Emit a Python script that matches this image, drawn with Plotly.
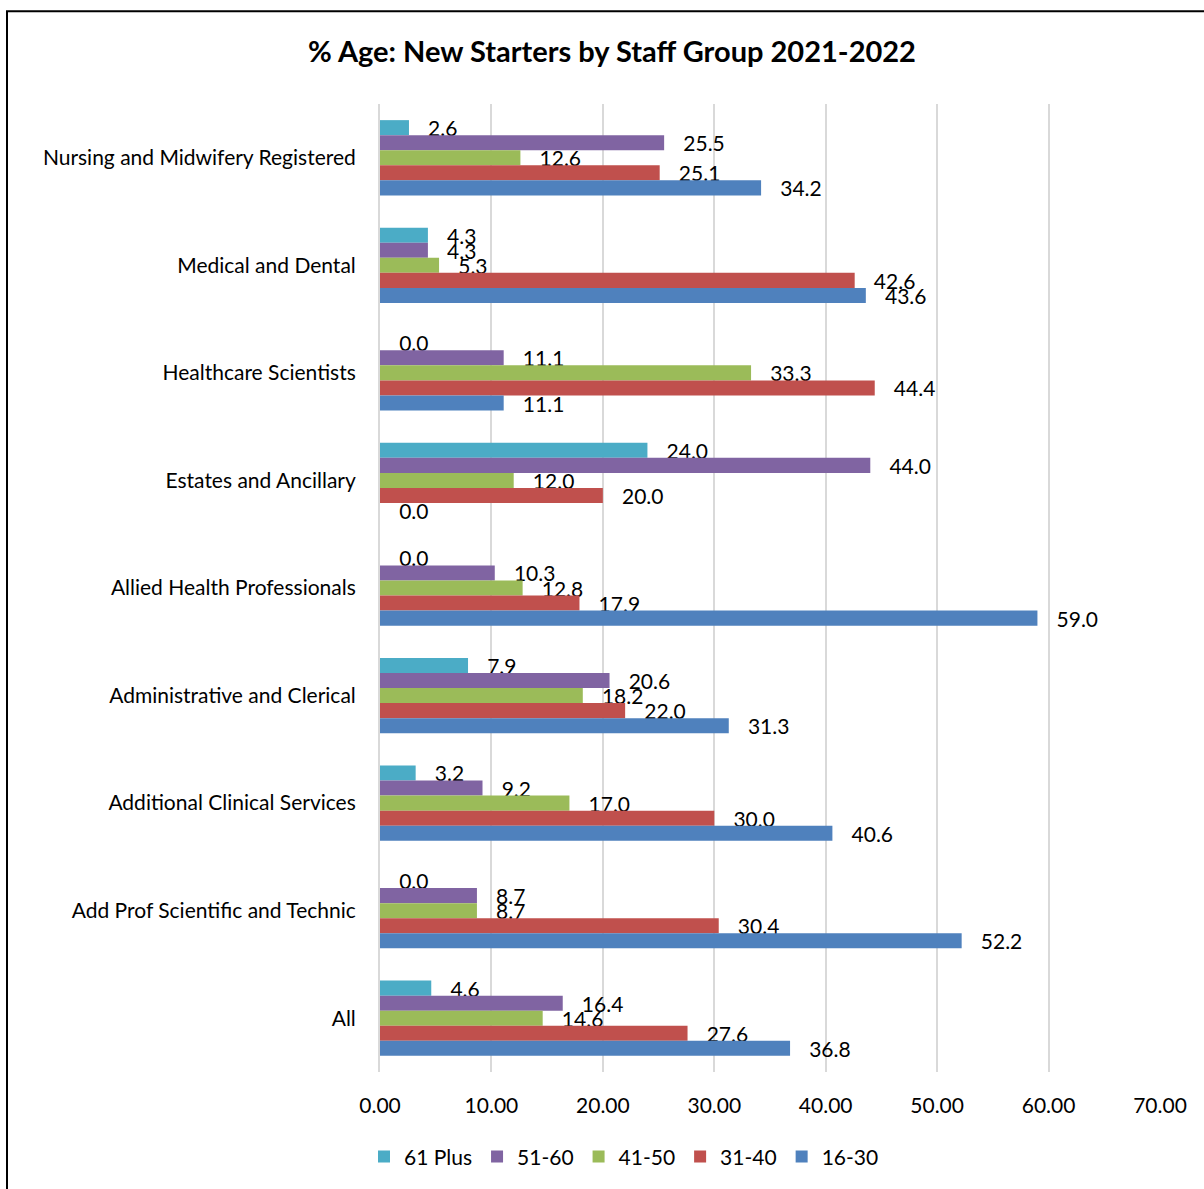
import plotly.graph_objects as go

categories = [
    "Nursing and Midwifery Registered",
    "Medical and Dental",
    "Healthcare Scientists",
    "Estates and Ancillary",
    "Allied Health Professionals",
    "Administrative and Clerical",
    "Additional Clinical Services",
    "Add Prof Scientific and Technic",
    "All",
]

age_61_plus = [2.6, 4.3, 0.0, 24.0, 0.0, 7.9, 3.2, 0.0, 4.6]
age_51_60 = [25.5, 4.3, 11.1, 44.0, 10.3, 20.6, 9.2, 8.7, 16.4]
age_41_50 = [12.6, 5.3, 33.3, 12.0, 12.8, 18.2, 17.0, 8.7, 14.6]
age_31_40 = [25.1, 42.6, 44.4, 20.0, 17.9, 22.0, 30.0, 30.4, 27.6]
age_16_30 = [34.2, 43.6, 11.1, 0.0, 59.0, 31.3, 40.6, 52.2, 36.8]

series_names = ["61 Plus", "51-60", "41-50", "31-40", "16-30"]
series_values = [age_61_plus, age_51_60, age_41_50, age_31_40, age_16_30]
series_colors = ["#4BACC6", "#8064A2", "#9BBB59", "#C0504D", "#4F81BD"]

x_ticks = [0, 10, 20, 30, 40, 50, 60, 70]

FONT = "Lato, 'Liberation Sans', sans-serif"

fig = go.Figure()
for name, vals, color in zip(series_names, series_values, series_colors):
    fig.add_trace(go.Bar(
        name=name,
        y=categories,
        x=vals,
        orientation="h",
        marker=dict(color=color, line=dict(width=0)),
        text=[f"\u00a0\u00a0\u00a0{v:.1f}" for v in vals],
        textposition="outside",
        textfont=dict(family=FONT, size=21, color="#000000"),
        constraintext="none",
        cliponaxis=False,
        hoverinfo="x+name",
    ))

fig.update_layout(
    width=1204,
    height=1189,
    barmode="group",
    bargap=0.3,
    bargroupgap=0,
    paper_bgcolor="#FFFFFF",
    plot_bgcolor="#FFFFFF",
    margin=dict(l=380, r=44, t=104, b=114),
    font=dict(family=FONT, size=21, color="#000000"),
    title=dict(
        text="<b>% Age: New Starters by Staff Group 2021-2022</b>",
        x=612 / 1204,
        xanchor="center",
        y=1 - 52 / 1189,
        yanchor="middle",
        font=dict(family=FONT, size=29, color="#000000"),
    ),
    xaxis=dict(
        range=[0, 70],
        tickvals=x_ticks,
        ticktext=[f"{t:.2f}" for t in x_ticks],
        showgrid=True,
        gridcolor="#D9D9D9",
        gridwidth=2,
        zeroline=False,
        showline=False,
        ticks="outside",
        ticklen=15,
        tickcolor="rgba(0,0,0,0)",
        tickfont=dict(family=FONT, size=21),
    ),
    yaxis=dict(
        autorange="reversed",
        showgrid=False,
        zeroline=False,
        showline=True,
        linecolor="#D9D9D9",
        linewidth=2,
        ticks="outside",
        ticklen=18,
        tickcolor="rgba(0,0,0,0)",
        tickfont=dict(family=FONT, size=21),
    ),
    legend=dict(
        orientation="h",
        x=(624 - 380) / 780,
        xanchor="center",
        y=(1075 - 1160) / 971,
        yanchor="middle",
        font=dict(family=FONT, size=21),
        traceorder="normal",
        itemwidth=30,
    ),
    showlegend=True,
)

# outer chart frame
fig.add_shape(
    type="rect",
    xref="paper", yref="paper",
    x0=(7 - 380) / 780, x1=(1240 - 380) / 780,
    y0=(1075 - 1240) / 971, y1=(1075 - 11) / 971,
    line=dict(color="#000000", width=2),
    fillcolor="rgba(0,0,0,0)",
    layer="below",
)

fig.write_html("out.html")
